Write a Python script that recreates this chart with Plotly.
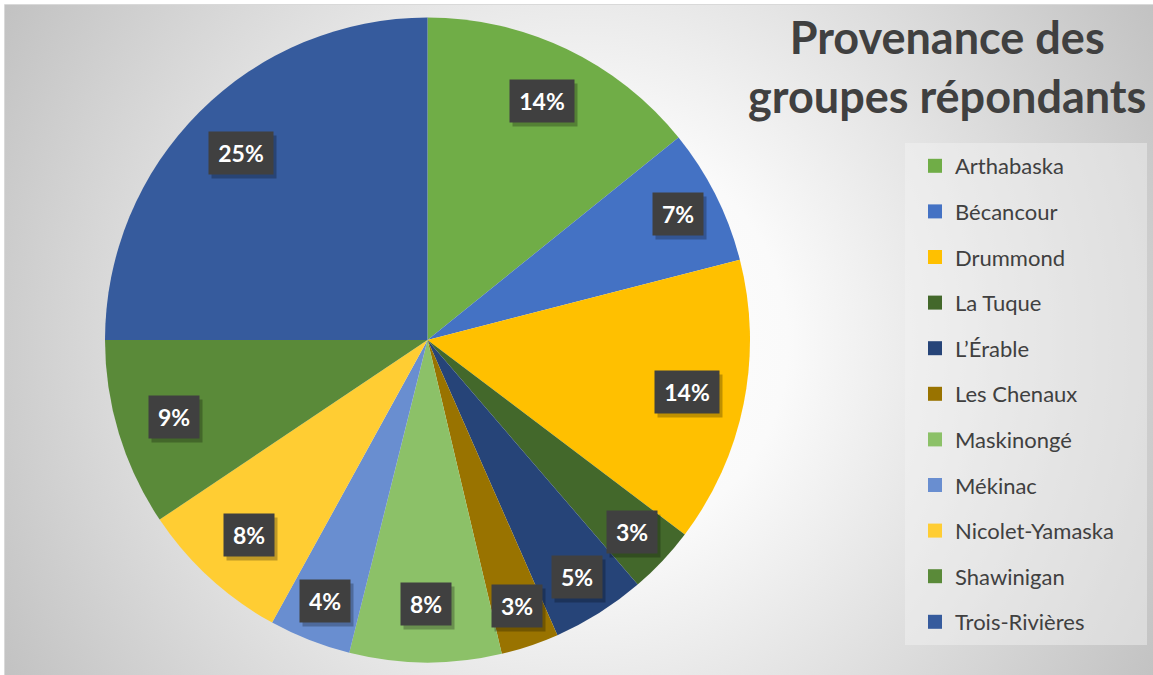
import math, base64
import plotly.graph_objects as go

# ---- data ----
categories = ["Arthabaska", "Bécancour", "Drummond", "La Tuque", "L’Érable",
              "Les Chenaux", "Maskinongé", "Mékinac", "Nicolet-Yamaska",
              "Shawinigan", "Trois-Rivières"]
shares = [14.2, 6.8, 14.3, 3.4, 4.7, 2.9, 7.6, 4.1, 7.6, 9.4, 25.0]
colors = ["#70AD47", "#4472C4", "#FFC000", "#43682B", "#264478",
          "#997300", "#8CC168", "#698ED0", "#FFCD33", "#5A8A39", "#365B9D"]
title_text = "Provenance des<br>groupes répondants"

# ---- geometry (style) ----
W, H = 1153, 675
CX, CY, R = 427.5, 340.0, 322.5
dom_x = [(CX - R) / W, (CX + R) / W]
dom_y = [1 - (CY + R) / H, 1 - (CY - R) / H]

FONT = "Lato"
TXT = "#404040"

fig = go.Figure()

# background radial gradient
svg = f'''<svg xmlns="http://www.w3.org/2000/svg" width="{W}" height="{H}">
<defs><radialGradient id="g" cx="576" cy="338" r="690" gradientUnits="userSpaceOnUse">
<stop offset="0" stop-color="#ffffff"/><stop offset="0.3" stop-color="#fafafa"/>
<stop offset="1" stop-color="#bfbfbf"/></radialGradient></defs>
<rect x="0" y="0" width="{W}" height="{H}" fill="url(#g)"/></svg>'''
src = "data:image/svg+xml;base64," + base64.b64encode(svg.encode()).decode()

fig.add_trace(go.Pie(
    labels=categories, values=shares, sort=False, direction="clockwise",
    rotation=0, marker=dict(colors=colors, line=dict(width=0)),
    textinfo="none", showlegend=False, domain=dict(x=dom_x, y=dom_y),
    hoverinfo="label+percent"))

# legend entries via dummy traces
for cat, col in zip(categories, colors):
    fig.add_trace(go.Scatter(
        x=[None], y=[None], mode="markers", name=cat, legendgroup=cat,
        marker=dict(symbol="square", size=14, color=col)))

# data labels
total = sum(shares)
annotations = []
cum = 0.0
for v in shares:
    th = 2 * math.pi * (cum + v / 2) / total
    cum += v
    frac = 0.82 if v / total >= 0.075 else 0.87
    xp = CX + frac * R * math.sin(th)
    yp = CY - frac * R * math.cos(th)
    txt = f"{round(v / total * 100)}%"
    bw = 22 + 14 * len(txt) - 8
    common = dict(x=xp / W, y=1 - yp / H, xref="paper", yref="paper",
                  xanchor="center", yanchor="middle",
                  showarrow=False, borderpad=4, width=bw, height=34,
                  align="center", valign="middle",
                  font=dict(family=FONT, size=23))
    annotations.append(dict(**common, text="&nbsp;",
                            bgcolor="rgba(0,0,0,0.25)",
                            xshift=3, yshift=-4))
    annotations.append(dict(**common, text=f"<b>{txt}</b>",
                            bgcolor="#404040", font_color="#FFFFFF"))

annotations.append(dict(
    x=946.5 / W, y=1 - 8 / H, xref="paper", yref="paper", xanchor="center",
    yanchor="top", showarrow=False, text=f"<b>{title_text}</b>",
    font=dict(family=FONT, size=45, color=TXT)))

fig.update_layout(
    width=W, height=H, margin=dict(l=0, r=0, t=0, b=0),
    paper_bgcolor="#FFFFFF", plot_bgcolor="rgba(0,0,0,0)",
    xaxis=dict(visible=False), yaxis=dict(visible=False),
    images=[dict(source=src, xref="paper", yref="paper", x=5 / W, y=1 - 5 / H,
                 sizex=1, sizey=1, sizing="stretch", xanchor="left",
                 yanchor="top", layer="below")],
    shapes=[dict(type="rect", xref="paper", yref="paper",
                 x0=905 / W, x1=1147 / W, y0=1 - 645 / H, y1=1 - 143 / H,
                 fillcolor="rgba(245,245,245,0.45)", line=dict(width=0),
                 layer="below"),
            dict(type="rect", xref="paper", yref="paper",
                 x0=4.5 / W, x1=1.01, y0=-0.01, y1=1 - 4.5 / H,
                 fillcolor="rgba(0,0,0,0)", line=dict(color="#D9D9D9", width=1),
                 layer="below")],
    legend=dict(x=915 / W, y=1 - 145 / H, xanchor="left", yanchor="top",
                bgcolor="rgba(0,0,0,0)", tracegroupgap=14,
                font=dict(family=FONT, size=22, color=TXT)),
    annotations=annotations,
)

fig.write_html("out.html", config={"displayModeBar": False},
               post_script="document.body.style.margin='0';")
